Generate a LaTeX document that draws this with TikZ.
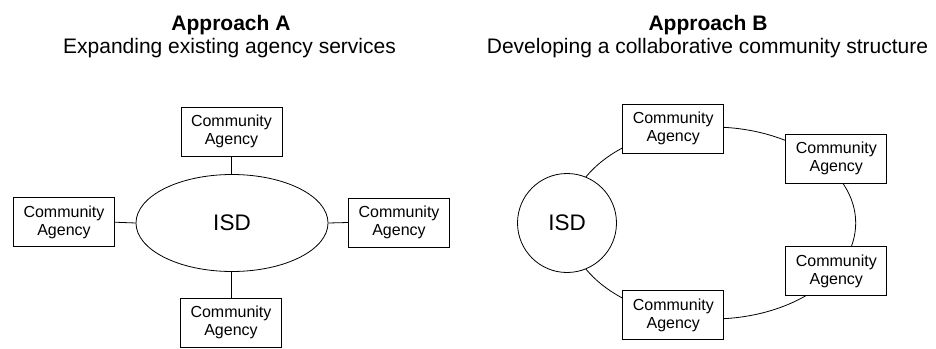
\documentclass[tikz,border=0pt]{standalone}
\usepackage{fontspec}
\setmainfont{Liberation Sans}
\usetikzlibrary{shapes.geometric}

\tikzset{
  link/.style={draw=black, line width=0.8pt},
  agency/.style={draw=black, fill=white, line width=0.8pt, minimum width=101pt,
    minimum height=49pt, inner sep=0pt, align=center,
    font=\fontsize{16}{18}\selectfont},
  hub/.style={draw=black, fill=white, line width=0.8pt, inner sep=0pt,
    font=\fontsize{22.5}{24}\selectfont},
  heading/.style={anchor=base, inner sep=0pt, font=\fontsize{21}{24}\selectfont\bfseries},
  subheading/.style={anchor=base, inner sep=0pt, font=\fontsize{21}{24}\selectfont}
}

\begin{document}
\begin{tikzpicture}[x=1pt, y=-1pt]
  \useasboundingbox (0,0) rectangle (936,348);

  % Headings
  \node[heading]    (titleA) at (231,30)   {Approach A};
  \node[subheading] (subA)   at (229.5,53) {Expanding existing agency services};
  \node[heading]    (titleB) at (708,30)   {Approach B};
  \node[subheading] (subB)   at (707.5,53) {Developing a collaborative community structure};

  % Approach A: hub with four spokes
  \node[hub, ellipse, minimum width=192pt, minimum height=97pt] (isdA) at (232,223) {ISD};
  \node[agency] (aTop)    at (231.5,131.5) {Community\\Agency};
  \node[agency] (aLeft)   at (64,222.2)    {Community\\Agency};
  \node[agency] (aRight)  at (399,222.5)   {Community\\Agency};
  \node[agency] (aBottom) at (231,322.5)   {Community\\Agency};

  \draw[link] (aTop.south)   -- (aTop.south |- isdA.north);
  \draw[link] (aLeft.east)   -- (isdA.west);
  \draw[link] (isdA.east)    -- (aRight.west);
  \draw[link] (isdA.south)   -- (isdA.south -| aBottom.north) -- (aBottom.north);

  % Approach B: ring linking the hub and the agencies
  \coordinate (ring) at (712,223);
  \draw[link] (ring) ellipse [x radius=143.7pt, y radius=96pt];

  \node[hub, circle, minimum size=99pt] (isdB) at (567,223) {ISD};
  \node[agency] (bOne)   at (673.2,128.8) {Community\\Agency};
  \node[agency] (bTwo)   at (836.3,158.5) {Community\\Agency};
  \node[agency] (bThree) at (836.3,271.2) {Community\\Agency};
  \node[agency] (bFour)  at (673.3,315)   {Community\\Agency};
\end{tikzpicture}
\end{document}
